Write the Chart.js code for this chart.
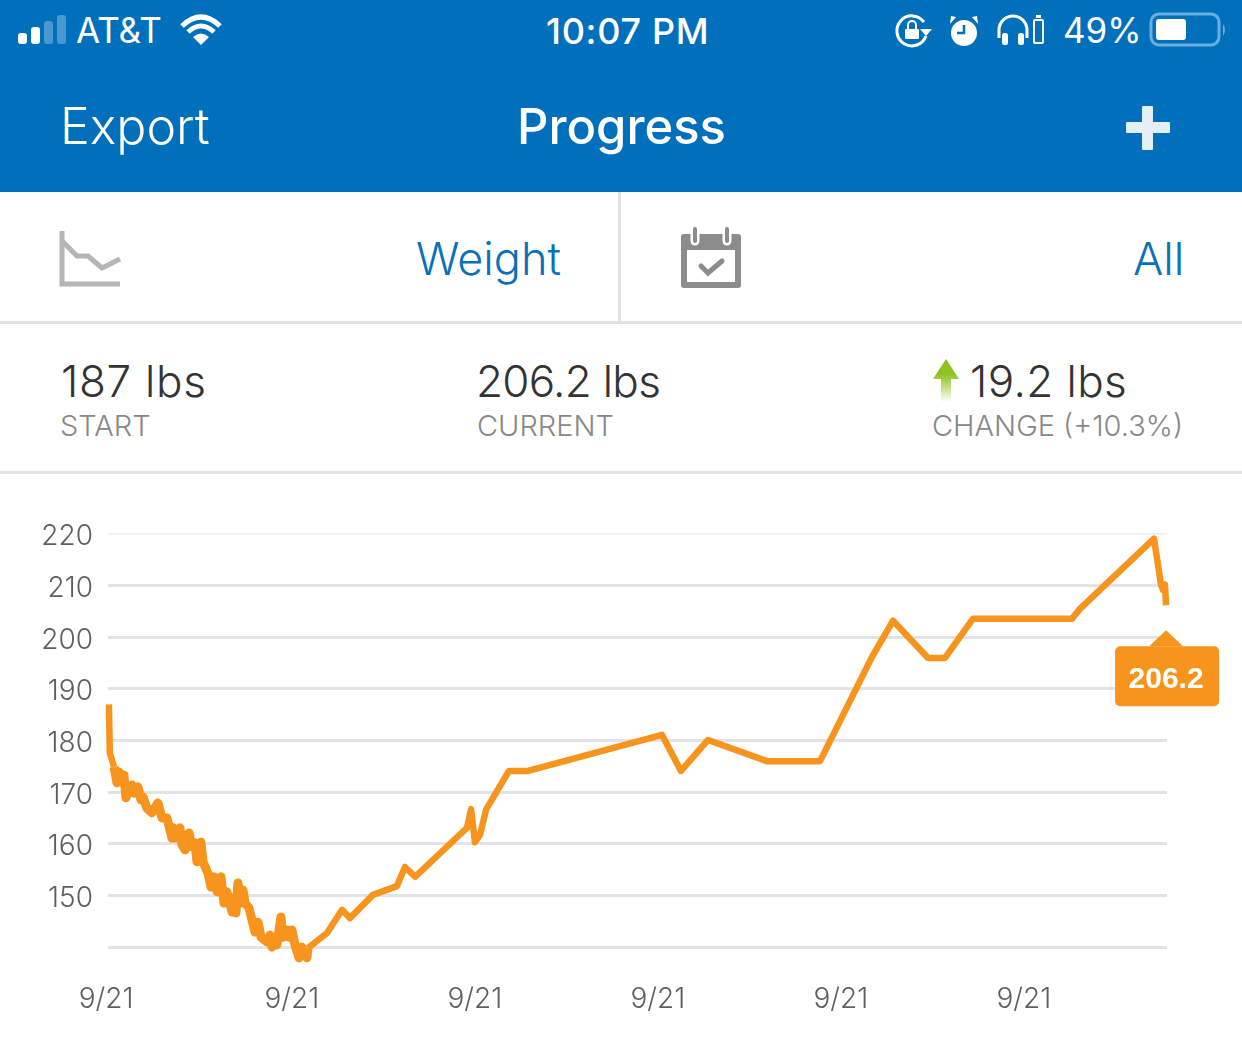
<!DOCTYPE html>
<html>
<head>
<meta charset="utf-8">
<title>Progress</title>
<script src="https://cdn.jsdelivr.net/npm/chart.js@4"></script>
<style>
  html, body { margin: 0; padding: 0; background: #fff; }
  body { width: 1242px; height: 1052px; position: relative; overflow: hidden; font-family: Inter, sans-serif; }
  .t { position: absolute; white-space: nowrap; line-height: 1; }
  .abs { position: absolute; }
  #header { left: 0; top: 0; width: 1242px; height: 192px; background: #0070bd; }
  .white { color: #fff; }
  .light { font-family: Inter, sans-serif; font-weight: 300; }
  .blue { color: #0a70b8; }
  .big { color: #333; font-family: Inter, sans-serif; font-weight: 300; font-size: 44px; }
  .small { color: #888; font-family: Inter, sans-serif; font-weight: 300; font-size: 29px; }
  #chartWrap { position: absolute; left: 0; top: 474px; width: 1242px; height: 578px; }
</style>
</head>
<body>
<div class="abs" id="header"></div>

<!-- status bar -->
<svg class="abs" style="left:0;top:0" width="240" height="60">
  <rect x="18" y="33" width="9" height="11" rx="3" fill="#fff"/>
  <rect x="31" y="27" width="9" height="17" rx="3" fill="#fff"/>
  <rect x="44" y="21" width="9" height="23" rx="3" fill="#4a98d2"/>
  <rect x="57" y="15" width="9" height="29" rx="3" fill="#4a98d2"/>
  <path d="M182 26 Q201 8 220 26" fill="none" stroke="#fff" stroke-width="5"/>
  <path d="M188 32 Q201 20 214 32" fill="none" stroke="#fff" stroke-width="5"/>
  <path d="M193 37 L201 45 L209 37 Q201 30 193 37 Z" fill="#fff"/>
</svg>
<span class="t white light" style="left:76px;top:13px;font-size:35px;font-weight:400">AT&amp;T</span>
<span class="t white" style="left:546px;top:13px;font-size:36px;font-weight:500;letter-spacing:.7px">10:07 PM</span>
<svg class="abs" style="left:880px;top:0" width="362" height="60">
  <path d="M44 22 A15 15 0 1 0 46 36" fill="none" stroke="#fff" stroke-width="3"/>
  <path d="M40 29 L52 29 L46 36 Z" fill="#fff"/>
  <rect x="25" y="29" width="14" height="10" rx="1" fill="#fff"/>
  <path d="M28 29 V25 A4 4 0 0 1 36 25 V29" fill="none" stroke="#fff" stroke-width="2"/>
  <circle cx="84" cy="33" r="13" fill="#fff"/>
  <path d="M84 25 V33 H77" fill="none" stroke="#0070bd" stroke-width="2.5"/>
  <path d="M70 24 L76 17 L71 16 Z M98 24 L92 17 L97 16 Z" fill="#fff"/>
  <path d="M119 38 V30 A14 14 0 0 1 147 30 V38" fill="none" stroke="#fff" stroke-width="3"/>
  <rect x="122" y="33" width="6" height="12" rx="2.5" fill="#fff"/>
  <rect x="138" y="33" width="6" height="12" rx="2.5" fill="#fff"/>
  <rect x="154" y="20" width="9" height="23" rx="1" fill="none" stroke="#fff" stroke-width="2"/>
  <rect x="156" y="15" width="5" height="3" fill="#fff"/>
  <rect x="271" y="14" width="68" height="31" rx="8" fill="none" stroke="#6aaee0" stroke-width="3"/>
  <rect x="276" y="19" width="30" height="21" rx="3" fill="#fff"/>
  <path d="M343 24 Q347 30 343 36 Z" fill="#6aaee0"/>
</svg>
<span class="t white light" style="left:1063px;top:13px;font-size:35px;font-weight:400">49%</span>

<!-- nav bar -->
<span class="t white light" style="left:60px;top:101px;font-size:50px">Export</span>
<span class="t white" style="left:517px;top:102px;font-size:49px;font-weight:500">Progress</span>
<svg class="abs" style="left:1125px;top:105px" width="46" height="46">
  <rect x="1" y="17" width="44" height="11" rx="1" fill="#e6eef6"/>
  <rect x="17" y="1" width="11" height="44" rx="1" fill="#e6eef6"/>
</svg>

<!-- selector row -->
<svg class="abs" style="left:55px;top:225px" width="70" height="66">
  <path d="M7 6 V59 H65" fill="none" stroke="#b5b5b5" stroke-width="5"/>
  <path d="M7 16 L22 31 L33 31 L47 43 L65 34" fill="none" stroke="#b5b5b5" stroke-width="5"/>
</svg>
<span class="t blue light" style="left:416px;top:236px;font-size:45px">Weight</span>
<div class="abs" style="left:618px;top:192px;width:3px;height:130px;background:#e2e2e2"></div>
<svg class="abs" style="left:675px;top:225px" width="72" height="66">
  <rect x="6" y="9" width="60" height="54" rx="3" fill="#8c8c8c"/>
  <rect x="12" y="25" width="48" height="32" fill="#fff"/>
  <path d="M16 4 V16 M48 4 V16" transform="translate(4,0)" stroke="#fff" stroke-width="9" stroke-linecap="round"/>
  <path d="M20 4 V16 M52 4 V16" stroke="#8c8c8c" stroke-width="4" stroke-linecap="round"/>
  <path d="M26 41 L33 48 L47 36" fill="none" stroke="#8c8c8c" stroke-width="5" stroke-linecap="round"/>
</svg>
<span class="t blue light" style="left:1133px;top:236px;font-size:45px">All</span>
<div class="abs" style="left:0;top:321px;width:1242px;height:3px;background:#e2e2e2"></div>

<!-- summary row -->
<span class="t big" style="left:61px;top:359px;letter-spacing:.7px">187 lbs</span>
<span class="t small" style="left:60px;top:411px">START</span>
<span class="t big" style="left:476px;top:359px;letter-spacing:-.7px">206.2 lbs</span>
<span class="t small" style="left:477px;top:411px">CURRENT</span>
<svg class="abs" style="left:930px;top:356px" width="32" height="48">
  <defs><linearGradient id="up" x1="0" y1="0" x2="0" y2="1">
    <stop offset="0.35" stop-color="#8dc21f"/><stop offset="1" stop-color="#ffffff"/>
  </linearGradient></defs>
  <path d="M3 23 L16 3 L29 23 L21 23 L21 46 L11 46 L11 23 Z" fill="url(#up)"/>
</svg>
<span class="t big" style="left:970px;top:359px;letter-spacing:.4px">19.2 lbs</span>
<span class="t small" style="left:932px;top:411px">CHANGE (+10.3%)</span>
<div class="abs" style="left:0;top:471px;width:1242px;height:3px;background:#e2e2e2"></div>

<div id="chartWrap"><canvas id="weightChart" width="1242" height="578"></canvas></div>

<script>
    // Weight readings, x is position along the time axis (100 = one labelled tick)
    const xValues = [0.5, 1, 3.3, 4.9, 6, 7.7, 8.7, 9.8, 13.1, 14.2, 16.4, 18, 19.1, 21.3, 24, 27.3, 29.5, 32.2, 35, 35.5,
        37.2, 39.3, 40.4, 42.1, 44.3, 45.9, 47.5, 48.6, 50.8, 51.9, 54.6, 56.3, 57.9, 59.6, 61.7, 63.4, 65, 67.8, 68.3, 69.9,
        71, 72.7, 73.8, 74.9, 77, 78.7, 80.3, 82, 83.6, 86.9, 88.5, 89.6, 91.3, 92.3, 94.5, 95.6, 97.8, 98.9, 100.5, 102.2,
        104.4, 106, 108.7, 109.3, 119.7, 127.9, 132.2, 144.8, 157.9, 162.3, 167.8, 196.2, 198.4, 200.5, 203.3, 206.6, 219.1, 229.5,
        302.7, 313.1, 327.9, 360.1, 389.1, 417.5, 429, 448.1, 457.4, 472.7, 526.8, 531.1, 571.6, 573.8, 575.4, 576.5, 577.6, 578.2];
    const weights = [187, 177.6, 174.9, 171.8, 173.9, 171.8, 173.3, 168.9, 171.4, 169.8, 171, 168.5, 169.1, 166.9, 166, 167.9, 165, 165, 161.1, 163.1,
        161.1, 163.1, 159.8, 158.8, 162.1, 159.4, 160.2, 156.5, 160.3, 156.5, 154.3, 151.6, 153.6, 150.7, 153.6, 148.5, 150.7, 146.8, 149.5, 146.6,
        152.4, 148.5, 151, 148.5, 147.6, 145.2, 142.9, 144.8, 141.9, 141, 142.3, 140, 141.7, 140.4, 145.8, 141.9, 143.3, 141.9, 143.3, 140.4,
        137.9, 140, 137.9, 139.8, 142.7, 147.2, 145.6, 150.1, 151.8, 155.5, 153.6, 163.1, 166.7, 160.3, 161.7, 166.6, 174.1, 174.1,
        181.1, 174.1, 180.1, 176, 176, 196.2, 203.2, 196, 196, 203.6, 203.6, 205.5, 219.1, 214, 210.2, 209.2, 210.2, 206.2];
    const xTickValues = [-1, 100.5, 200.5, 300.5, 400.5, 500.5];
    const xTickLabels = ['9/21', '9/21', '9/21', '9/21', '9/21', '9/21'];
    const yTickValues = [140, 150, 160, 170, 180, 190, 200, 210, 220];
    const yTickLabels = ['', '150', '160', '170', '180', '190', '200', '210', '220'];

    const ORANGE = '#f7941e';

    // Orange value flag under the last point
    const lastValueFlag = {
        id: 'lastValueFlag',
        afterDatasetsDraw(chart) {
            const ctx = chart.ctx;
            const pts = chart.getDatasetMeta(0).data;
            const last = pts[pts.length - 1];
            const cx = last.x;
            const tip = last.y + 25;
            const top = tip + 16;
            ctx.save();
            ctx.fillStyle = ORANGE;
            ctx.beginPath();
            ctx.moveTo(cx, tip);
            ctx.lineTo(cx + 17, top);
            ctx.lineTo(cx - 17, top);
            ctx.closePath();
            ctx.fill();
            ctx.beginPath();
            ctx.roundRect(cx - 51, top, 104, 60, 5);
            ctx.fill();
            ctx.fillStyle = '#fff';
            ctx.font = 'bold 30px "Liberation Sans"';
            ctx.textAlign = 'center';
            ctx.textBaseline = 'middle';
            ctx.fillText(weights[weights.length - 1].toFixed(1), cx, top + 33);
            ctx.restore();
        }
    };

    new Chart(document.getElementById('weightChart'), {
        type: 'line',
        data: {
            datasets: [{
                data: xValues.map((x, i) => ({ x: x, y: weights[i] })),
                borderColor: ORANGE,
                borderWidth: 6.5,
                borderJoinStyle: 'round',
                pointRadius: 0,
                tension: 0,
                clip: false,
                // the early daily readings read as a heavier band
                segment: { borderWidth: (c) => (c.p0.parsed.x > 3 && c.p0.parsed.x < 109) ? 9 : 6.5 }
            }]
        },
        plugins: [lastValueFlag],
        options: {
            responsive: false,
            animation: false,
            layout: { padding: { top: 60, right: 75, left: 0, bottom: 0 } },
            plugins: { legend: { display: false }, tooltip: { enabled: false } },
            scales: {
                x: {
                    type: 'linear',
                    min: 0,
                    max: 578.7,
                    afterFit: (axis) => { axis.height = 105; },
                    afterBuildTicks: (axis) => { axis.ticks = xTickValues.map(v => ({ value: v })); },
                    grid: { display: false },
                    border: { display: false },
                    ticks: {
                        padding: 28,
                        autoSkip: false,
                        maxRotation: 0,
                        color: '#5f5f5f',
                        font: { family: 'Inter', weight: '300', size: 28 },
                        callback: (v, i) => xTickLabels[i]
                    }
                },
                y: {
                    min: 140,
                    max: 220,
                    afterFit: (axis) => { axis.width = 108; },
                    afterBuildTicks: (axis) => { axis.ticks = yTickValues.map(v => ({ value: v })); },
                    grid: {
                        drawTicks: false,
                        color: (c) => c.tick.value === 220 ? '#ececec' : '#e3e3e3',
                        lineWidth: (c) => c.tick.value === 220 ? 1.5 : 3
                    },
                    border: { display: false },
                    ticks: {
                        padding: 15,
                        labelOffset: 3,
                        color: '#5f5f5f',
                        font: { family: 'Inter', weight: '300', size: 28 },
                        callback: (v, i) => yTickLabels[i]
                    }
                }
            }
        }
    });
</script>
</body>
</html>
